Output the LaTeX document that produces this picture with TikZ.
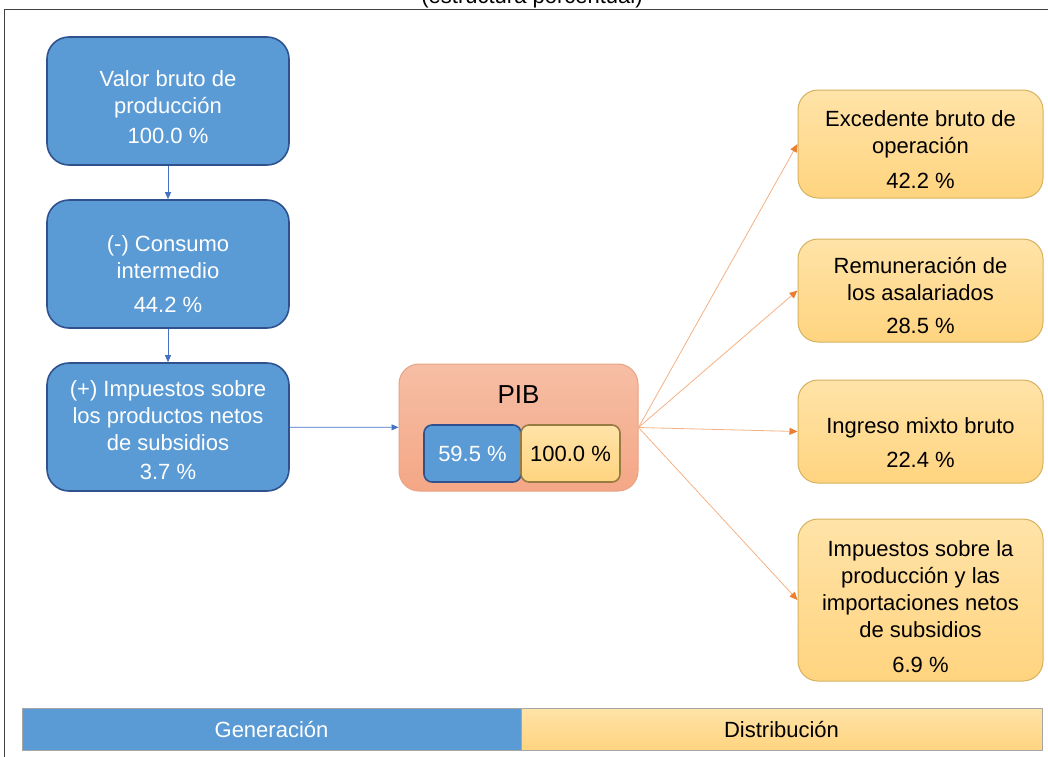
\documentclass[tikz,border=0pt]{standalone}
\usepackage{fontspec}
\setmainfont{Liberation Sans}
\usetikzlibrary{arrows.meta}

\definecolor{genFill}{HTML}{5B9BD5}
\definecolor{genBorder}{HTML}{2F528F}
\definecolor{genArrow}{HTML}{4472C4}
\definecolor{disTop}{HTML}{FFE3A8}
\definecolor{disBot}{HTML}{FFD47F}
\definecolor{disBorder}{HTML}{D6B15E}
\definecolor{pibTop}{HTML}{F6BEA5}
\definecolor{pibBot}{HTML}{F4A786}
\definecolor{pibBorder}{HTML}{E9A283}
\definecolor{disStroke}{HTML}{F4B183}
\definecolor{disTip}{HTML}{ED7D31}
\definecolor{barBorder}{HTML}{A6A6A6}

\begin{document}
\begin{tikzpicture}
[x=1pt,y=-1pt,
  font=\fontsize{22}{27}\selectfont,
  genBox/.style={draw=genBorder,line width=1.6pt,fill=genFill,text=white,
    rounded corners=22pt,minimum width=242pt,minimum height=128pt,align=center},
  disBox/.style={draw=disBorder,line width=1pt,top color=disTop,bottom color=disBot,
    rounded corners=20pt,minimum width=245pt,align=center},
  genLine/.style={-{Triangle[length=7pt,width=6pt]},draw=genArrow,line width=0.8pt},
  disLine/.style={-{Triangle[length=8pt,width=7pt,color=disTip]},draw=disStroke,line width=0.8pt}]
\useasboundingbox (0,0) rectangle (1048,756);
%% frame and title
\draw[line width=1pt,black!75] (4,770) -- (4,9.5) -- (1060,9.5);
\node[anchor=base] (titulo) at (532,3) {(estructura porcentual)};
%% generation boxes
\foreach \nodename/\y/\s/\txt in {
  valor/101/28/{Valor bruto de\\producción\\[3pt]100.0 \%},
  consumo/264/36/{(-) Consumo\\intermedio\\[7pt]44.2 \%},
  impuestos/427/22/{(+) Impuestos sobre\\los productos netos\\de subsidios\\[2pt]3.7 \%}}
{
  \node[genBox] (\nodename) at (168,\y) {\rule{0pt}{\s pt}\txt};
}
%% PIB
\node[draw=pibBorder,line width=1pt,top color=pibTop,bottom color=pibBot,
  rounded corners=20pt,minimum width=239pt,minimum height=127pt] (pib) at (518.5,427.5) {};
\node[font=\fontsize{26}{30}\selectfont] (pibTitulo) at (518.5,395) {PIB};
\node[draw=genBorder,line width=1.6pt,fill=genFill,text=white,rounded corners=8pt,
  minimum width=97pt,minimum height=57pt] (pibGen) at (472.5,453.5) {59.5 \%};
\node[draw=disBorder!70!black,line width=1.6pt,top color=disTop,bottom color=disBot,
  rounded corners=8pt,minimum width=99pt,minimum height=57pt] (pibDis) at (570.5,453.5) {100.0 \%};
%% distribution boxes
\foreach \nodename/\y/\h/\s/\txt in {
  excedente/144/108/28/{Excedente bruto de\\operación\\[8pt]42.2 \%},
  remuneracion/290.5/103/26/{Remuneración de\\los asalariados\\[6pt]28.5 \%},
  mixto/431.5/103/38/{Ingreso mixto bruto\\[7pt]22.4 \%},
  imppro/600/162/30/{Impuestos sobre la\\producción y las\\importaciones netos\\de subsidios\\[8pt]6.9 \%}}
{
  \node[disBox,minimum height=\h pt] (\nodename) at (920.5,\y) {\rule{0pt}{\s pt}\txt};
}
%% bottom bar
\node[draw=barBorder,line width=0.6pt,fill=genFill,text=white,
  minimum width=499pt,minimum height=42pt] (generacion) at (271.5,729) {Generación};
\node[draw=barBorder,line width=0.6pt,top color=disTop,bottom color=disBot,
  minimum width=521pt,minimum height=42pt] (distribucion) at (781.5,729) {Distribución};
%% edges or lines
\draw[genLine] (valor) -- (consumo);
\draw[genLine] (consumo) -- (impuestos);
\draw[genLine] (impuestos) -- (pib);
\foreach \endnode in {excedente, remuneracion, mixto, imppro}
{
  \draw[disLine] (pib.east) -- (\endnode.west);
}
\end{tikzpicture}
\end{document}
